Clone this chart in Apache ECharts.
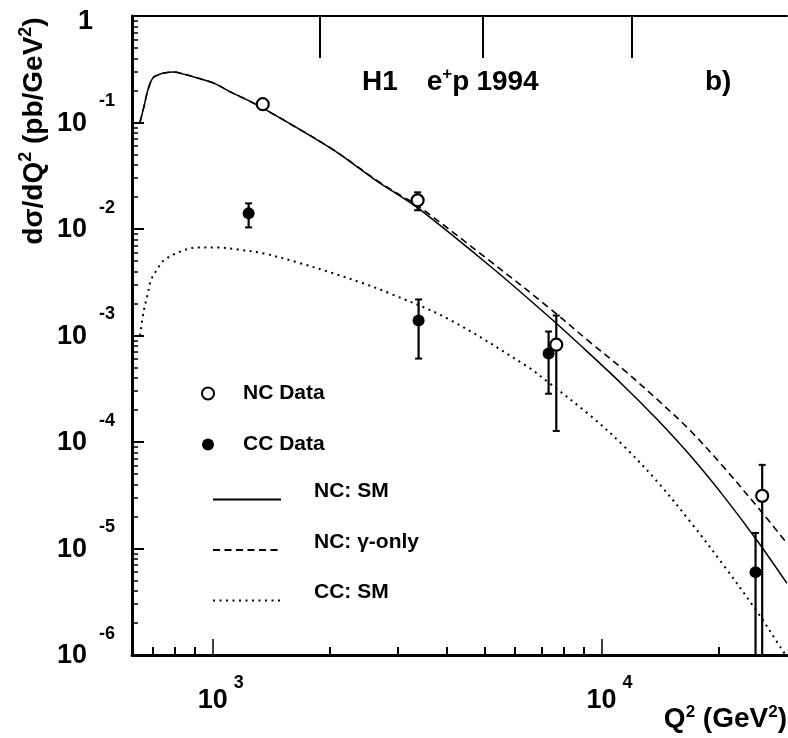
<!DOCTYPE html>
<html><head><meta charset="utf-8">
<script src="https://cdn.jsdelivr.net/npm/echarts@6/dist/echarts.min.js"></script>
<style>html,body{margin:0;padding:0;background:#fff}#c{width:788px;height:738px}</style>
</head><body><div id="c"></div><script>
// ---- axis ranges & ticks ----
const xMin = 620, xMax = 30000, yMin = 1e-6, yMax = 1;
const xMajor = [1000, 10000];
const xMinor = [700, 800, 900, 2000, 3000, 4000, 5000, 6000, 7000, 8000, 9000, 20000];
const topTicks = [1890, 4950, 11950];
const yMajor = [1e-6, 1e-5, 1e-4, 1e-3, 1e-2, 1e-1, 1];
const yMinor = [
  2e-6,3e-6,4e-6,5e-6,6e-6,7e-6,8e-6,9e-6,
  2e-5,3e-5,4e-5,5e-5,6e-5,7e-5,8e-5,9e-5,
  2e-4,3e-4,4e-4,5e-4,6e-4,7e-4,8e-4,9e-4,
  2e-3,3e-3,4e-3,5e-3,6e-3,7e-3,8e-3,9e-3,
  2e-2,3e-2,4e-2,5e-2,6e-2,7e-2,8e-2,9e-2,
  0.2,0.3,0.4,0.5,0.6,0.7,0.8,0.9];

// ---- data points ----
const ncQ2   = [1345, 3365, 7650, 25900];
const ncVal  = [0.1486, 0.01858, 8.2e-4, 3.12e-5];
const ncLow  = [0.139, 0.0150, 1.27e-4, 5e-7];
const ncHigh = [0.158, 0.0221, 1.54e-3, 6.1e-5];

const ccQ2   = [1237, 3385, 7310, 24900];
const ccVal  = [0.01402, 1.38e-3, 6.76e-4, 6.0e-6];
const ccLow  = [0.01035, 6.07e-4, 2.84e-4, 5e-7];
const ccHigh = [0.01741, 2.18e-3, 1.09e-3, 1.40e-5];

// ---- theory curves ----
const smQ2  = [650, 665, 681, 701, 722, 748, 794, 842, 915, 1006, 1113, 1230, 1345, 1587, 2047, 2650, 3043, 3385, 5184, 7264, 9370, 11393, 13932, 16935, 20586, 25180, 30000];
const smVal = [0.1006, 0.1393, 0.2013, 0.261, 0.2786, 0.2909, 0.2973, 0.2847, 0.261, 0.2343, 0.1928, 0.1621, 0.1363, 0.0964, 0.0549, 0.02804, 0.02026, 0.01562, 0.004447, 0.001539, 6.61e-4, 3.379e-4, 1.617e-4, 7.418e-5, 3.118e-5, 1.177e-5, 4.70e-6];

const gamQ2  = [650, 665, 681, 701, 722, 748, 794, 842, 915, 1006, 1113, 1230, 1345, 1587, 2047, 2650, 3043, 3385, 5184, 7264, 9370, 11393, 13932, 16935, 20586, 25180, 30000];
const gamVal = [0.1006, 0.1393, 0.2013, 0.261, 0.2786, 0.2909, 0.2973, 0.2847, 0.261, 0.2343, 0.1928, 0.1621, 0.1363, 0.0964, 0.0552, 0.0284, 0.0207, 0.01632, 0.004957, 0.00187, 8.57e-4, 4.777e-4, 2.495e-4, 1.274e-4, 5.844e-5, 2.458e-5, 1.12e-5];

const ccsmQ2  = [650, 665, 681, 693, 722, 748, 827, 915, 1030, 1160, 1353, 1654, 2011, 2445, 2818, 4019, 6452, 7264, 9370, 11393, 13932, 16935, 20586, 25180, 28860, 32490];
const ccsmVal = [1.0e-3, 1.715e-3, 2.478e-3, 3.284e-3, 4.258e-3, 5.065e-3, 6.157e-3, 6.713e-3, 6.713e-3, 6.428e-3, 5.894e-3, 4.851e-3, 3.905e-3, 3.077e-3, 2.532e-3, 1.442e-3, 5.097e-4, 3.684e-4, 1.764e-4, 9.21e-5, 4.222e-5, 1.775e-5, 6.995e-6, 2.527e-6, 1.184e-6, 6.18e-7];

const FF = '"Liberation Sans", Arial, Helvetica, sans-serif';
const zip = (a, b) => a.map((v, i) => [v, b[i]]);
const K = '#000';

function errRender(params, api) {
  const cs = params.coordSys;
  const x = api.value(0);
  const pLo = api.coord([x, api.value(1)]);
  const pHi = api.coord([x, api.value(2)]);
  const top = cs.y, bot = cs.y + cs.height;
  const yHi = Math.max(pHi[1], top), yLo = Math.min(pLo[1], bot);
  const cw = 3.5;
  const kids = [{type: 'line', shape: {x1: pHi[0], y1: yHi, x2: pLo[0], y2: yLo}, style: {stroke: K, lineWidth: 2.2}}];
  if (pHi[1] >= top) kids.push({type: 'line', shape: {x1: pHi[0] - cw, y1: pHi[1], x2: pHi[0] + cw, y2: pHi[1]}, style: {stroke: K, lineWidth: 2}});
  if (pLo[1] <= bot) kids.push({type: 'line', shape: {x1: pLo[0] - cw, y1: pLo[1], x2: pLo[0] + cw, y2: pLo[1]}, style: {stroke: K, lineWidth: 2}});
  return {type: 'group', children: kids};
}

const chart = echarts.init(document.getElementById('c'));
const legendText = {fontSize: 21, fontWeight: 'bold', color: K, fontFamily: FF};
const tm = {fontSize: 28, fontWeight: 'bold', fontFamily: FF, lineHeight: 32, color: K};
const option = {
  animation: false,
  backgroundColor: '#fff',
  textStyle: {fontFamily: FF},
  grid: {left: 132, top: 16, width: 655, height: 639, containLabel: false, outerBoundsMode: 'none'},
  title: [
    {text: '{m|H1}{m2|e}{s|+}{m|p}{m3|1994}', left: 362, top: 66, padding: 0,
     textStyle: {rich: {
       m: tm,
       m2: Object.assign({padding: [0, 0, 0, 29]}, tm),
       m3: Object.assign({padding: [0, 0, 0, 7]}, tm),
       s: {fontSize: 17, fontWeight: 'bold', fontFamily: FF, lineHeight: 10, verticalAlign: 'top', color: K}}}},
    {text: 'b)', left: 705, top: 66, padding: 0, textStyle: tm}
  ],
  legend: [
    {orient: 'vertical', left: 201, top: 383, itemWidth: 60, itemHeight: 12, itemGap: 30, padding: 0,
     selectedMode: false, data: ['NC Data', 'CC Data'],
     textStyle: Object.assign({lineHeight: 20}, legendText)},
    {orient: 'vertical', left: 212, top: 481, itemWidth: 68, itemHeight: 14, itemGap: 21, padding: 0,
     selectedMode: false, data: ['NC: SM', 'NC: γ-only', 'CC: SM'],
     itemStyle: {opacity: 0},
     formatter: n => '{t|' + n + '}\n{g| }',
     textStyle: {padding: [0, 0, 0, 28], rich: {
       t: Object.assign({lineHeight: 20}, legendText),
       g: {fontSize: 2, lineHeight: 16}}}}
  ],
  graphic: [{
    type: 'text', x: 34, y: 131, rotation: Math.PI / 2,
    style: {
      text: '{m|dσ/dQ}{s|2}{m| (pb/GeV}{s|2}{m|)}', align: 'center', verticalAlign: 'middle',
      rich: {
        m: {fontSize: 28, fontWeight: 'bold', fontFamily: FF, lineHeight: 34, fill: K},
        s: {fontSize: 18, fontWeight: 'bold', fontFamily: FF, lineHeight: 14, verticalAlign: 'top', fill: K}
      }
    }
  }],
  xAxis: [
    {type: 'log', min: xMin, max: xMax, position: 'bottom', splitLine: {show: false},
     axisLine: {show: true, lineStyle: {color: K, width: 3}},
     axisTick: {inside: true, length: 16, customValues: xMajor, lineStyle: {color: K, width: 1.5}},
     axisLabel: {customValues: xMajor, margin: 23, color: K,
       formatter: v => '{e|' + Math.round(Math.log10(v)) + '}\n{b|10}',
       rich: {
         e: {fontSize: 18, fontWeight: 'bold', fontFamily: FF, lineHeight: 10, padding: [0, 0, 0, 52], color: K},
         b: {fontSize: 27, fontWeight: 'bold', fontFamily: FF, lineHeight: 25, align: 'center', color: K}}},
     name: '{m|Q}{s|2}{m| (GeV}{s|2}{m|)}', nameLocation: 'end', nameGap: 0,
     nameTextStyle: {align: 'right', verticalAlign: 'top', padding: [49, 0, 0, 0],
       rich: {
         m: {fontSize: 28, fontWeight: 'bold', fontFamily: FF, lineHeight: 30, color: K},
         s: {fontSize: 17, fontWeight: 'bold', fontFamily: FF, lineHeight: 12, verticalAlign: 'top', color: K}}}},
    {type: 'log', min: xMin, max: xMax, position: 'bottom', splitLine: {show: false},
     axisLine: {show: false}, axisLabel: {show: false},
     axisTick: {inside: true, length: 8, customValues: xMinor, lineStyle: {color: K, width: 2}}},
    {type: 'log', min: xMin, max: xMax, position: 'top', splitLine: {show: false},
     axisLine: {show: true, lineStyle: {color: K, width: 2}}, axisLabel: {show: false},
     axisTick: {inside: true, length: 42, customValues: topTicks, lineStyle: {color: K, width: 2}}}
  ],
  yAxis: [
    {type: 'log', min: yMin, max: yMax, position: 'left', splitLine: {show: false},
     axisLine: {show: true, lineStyle: {color: K, width: 3}},
     axisTick: {inside: true, length: 12, customValues: yMajor, lineStyle: {color: K, width: 2}},
     axisLabel: {customValues: yMajor, margin: 17, color: K,
       formatter: v => { const e = Math.round(Math.log10(v)); return e === 0 ? '{e0| }\n{one|1}' : '{e|' + e + '}\n{b|10}'; },
       rich: {
         e: {fontSize: 18, fontWeight: 'bold', fontFamily: FF, lineHeight: 2, align: 'right', color: K},
         e0: {fontSize: 4, lineHeight: 12, align: 'right', color: K},
         b: {fontSize: 27, fontWeight: 'bold', fontFamily: FF, lineHeight: 42, align: 'right', padding: [0, 28, 0, 0], color: K},
         one: {fontSize: 27, fontWeight: 'bold', fontFamily: FF, lineHeight: 42, align: 'right', padding: [0, 22, 0, 0], color: K}}}},
    {type: 'log', min: yMin, max: yMax, position: 'left', splitLine: {show: false},
     axisLine: {show: false}, axisLabel: {show: false},
     axisTick: {inside: true, length: 6, customValues: yMinor, lineStyle: {color: K, width: 1.5}}}
  ],
  series: [
    {name: 'NC: SM', type: 'line', data: zip(smQ2, smVal), symbol: 'none', smooth: 0.35, z: 2,
     lineStyle: {color: K, width: 1.5}, itemStyle: {color: K}},
    {name: 'NC: γ-only', type: 'line', data: zip(gamQ2, gamVal), symbol: 'none', smooth: 0.35, z: 2,
     lineStyle: {color: K, width: 1.6, type: [7, 4.5]}, itemStyle: {color: K}},
    {name: 'CC: SM', type: 'line', data: zip(ccsmQ2, ccsmVal), symbol: 'none', smooth: 0.35, z: 2,
     lineStyle: {color: K, width: 2, type: [2, 4.5]}, itemStyle: {color: K}},
    {name: 'errNC', type: 'custom', renderItem: errRender, silent: true, z: 3, clip: true,
     encode: {x: 0, y: [1, 2]}, data: ncQ2.map((q, i) => [q, ncLow[i], ncHigh[i]])},
    {name: 'errCC', type: 'custom', renderItem: errRender, silent: true, z: 3, clip: true,
     encode: {x: 0, y: [1, 2]}, data: ccQ2.map((q, i) => [q, ccLow[i], ccHigh[i]])},
    {name: 'NC Data', type: 'scatter', data: zip(ncQ2, ncVal), symbol: 'circle', symbolSize: 12, z: 5,
     itemStyle: {color: '#fff', borderColor: K, borderWidth: 2.2, opacity: 1}},
    {name: 'CC Data', type: 'scatter', data: zip(ccQ2, ccVal), symbol: 'circle', symbolSize: 12, z: 5,
     itemStyle: {color: K, opacity: 1}}
  ]
};
chart.setOption(option);
</script></body></html>
